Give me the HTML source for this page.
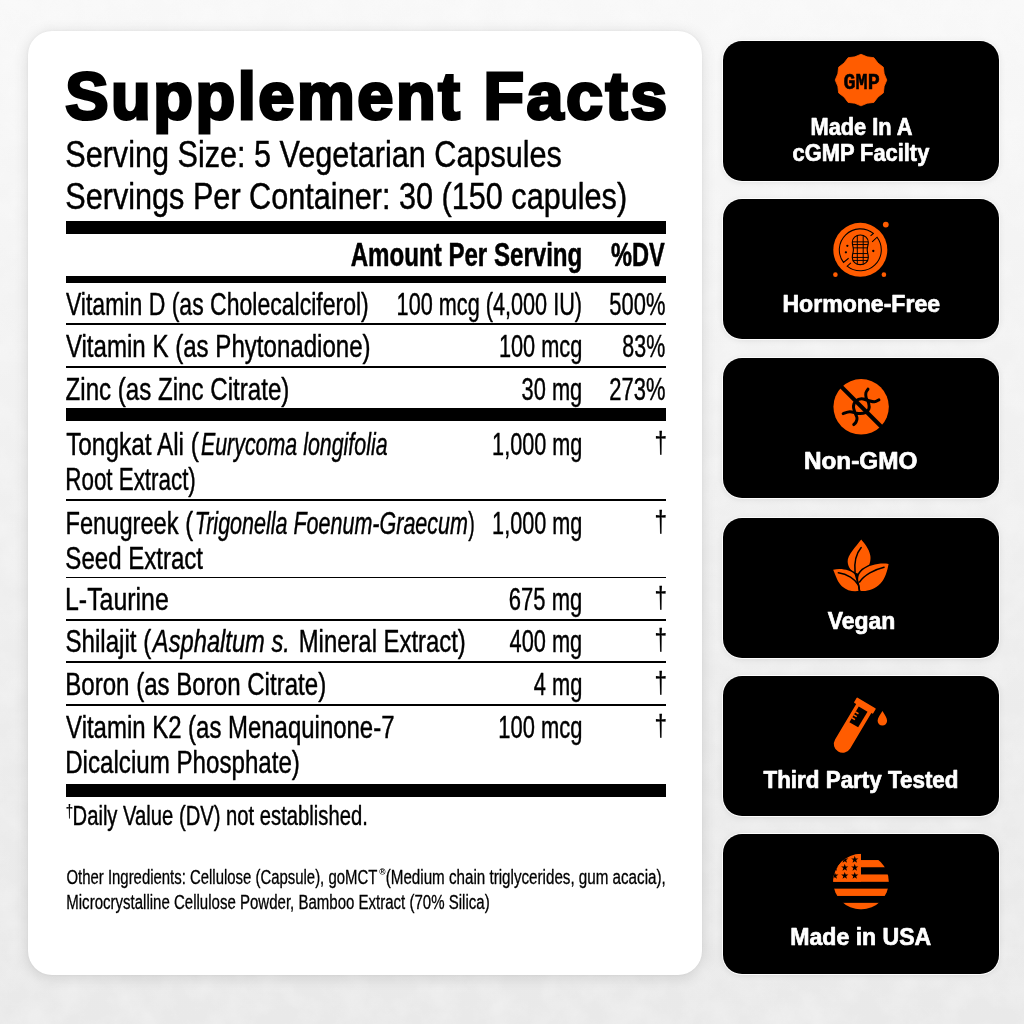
<!DOCTYPE html>
<html lang="en">
<head>
<meta charset="utf-8">
<title>Supplement Facts</title>
<style>
html,body{margin:0;padding:0;}
body{width:1024px;height:1024px;overflow:hidden;background:linear-gradient(180deg,#f8f8f8 0%,#f2f2f2 35%,#ececec 70%,#e9e9e9 100%);position:relative;font-family:"Liberation Sans",sans-serif;}
.panel{position:absolute;left:28px;top:31px;width:674px;height:943.7px;background:#fff;border-radius:24px;box-shadow:0 2px 15px rgba(0,0,0,0.12),0 0 3px rgba(0,0,0,0.05);}
.badge{position:absolute;left:722.5px;width:276.6px;height:140.1px;background:#000;border-radius:19px;box-shadow:0 0 0 1px rgba(255,255,255,0.9),0 1px 6px rgba(0,0,0,0.10);}
.bar{position:absolute;left:66.1px;width:600.2px;background:#000;}
svg.overlay{position:absolute;left:0;top:0;}
svg.overlay text{font-family:"Liberation Sans",sans-serif;}
</style>
</head>
<body>
<svg class="noise" width="1024" height="1024" style="position:absolute;left:0;top:0">
<filter id="paper" x="0" y="0" width="100%" height="100%">
<feTurbulence type="fractalNoise" baseFrequency="0.035" numOctaves="4" seed="7" result="n"/>
<feColorMatrix in="n" type="matrix" values="0 0 0 0 1  0 0 0 0 1  0 0 0 0 1  1.6 0 0 0 -0.55"/>
</filter>
<rect width="1024" height="1024" filter="url(#paper)" opacity="0.3"/>
</svg>
<div class="panel"></div>
<div class="badge" style="top:40.9px"></div>
<div class="badge" style="top:199.05px"></div>
<div class="badge" style="top:357.5px"></div>
<div class="badge" style="top:517.5px"></div>
<div class="badge" style="top:676px"></div>
<div class="badge" style="top:834.3px"></div>
<div class="bar" style="top:221px;height:13px"></div>
<div class="bar" style="top:276px;height:6.8px"></div>
<div class="bar" style="top:323.4px;height:1.6px"></div>
<div class="bar" style="top:366.1px;height:1.6px"></div>
<div class="bar" style="top:408px;height:13px"></div>
<div class="bar" style="top:499.2px;height:1.6px"></div>
<div class="bar" style="top:576.5px;height:1.6px"></div>
<div class="bar" style="top:619.2px;height:1.6px"></div>
<div class="bar" style="top:661.4px;height:1.6px"></div>
<div class="bar" style="top:704.2px;height:1.6px"></div>
<div class="bar" style="top:783.6px;height:13.2px"></div>
<svg class="overlay" width="1024" height="1024" viewBox="0 0 1024 1024">
<polygon fill="#FF5C00" stroke="#FF5C00" stroke-width="0.8" stroke-linejoin="round" points="861,54.25 867.21,56.87 873.9,57.71 877.97,63.08 883.34,67.15 884.18,73.84 886.8,80.05 884.18,86.26 883.34,92.95 877.97,97.02 873.9,102.39 867.21,103.23 861,105.85 854.79,103.23 848.1,102.39 844.03,97.02 838.66,92.95 837.82,86.26 835.2,80.05 837.82,73.84 838.66,67.15 844.03,63.08 848.1,57.71 854.79,56.87"/>
<g transform="translate(860.3 249.85)"><circle r="27" fill="#FF5C00"/><circle cx="25.5" cy="-25.3" r="2.9" fill="#FF5C00"/><circle cx="-24.9" cy="24.8" r="2.3" fill="#FF5C00"/><circle cx="23.6" cy="24.8" r="2.3" fill="#FF5C00"/><path fill="none" stroke="#000" stroke-width="1.05" stroke-linecap="butt" stroke-linejoin="miter" d="M-11.67 8.38L-16.81 12.58A21 21 0 0 1 13.08 -16.43L10.25 -14 M11.86 -8.06L16.78 -12.63A21 21 0 0 1 -13.16 16.36L-9.4 13"/><clipPath id="pn"><path d="M0 -14.8C4.6 -14.8 8 -11.6 8 -7.6C8 -4.4 6.9 -2.6 6.9 0C6.9 2.6 8 4.4 8 7.6C8 11.6 4.6 14.8 0 14.8C-4.6 14.8 -8 11.6 -8 7.6C-8 4.4 -6.9 2.6 -6.9 0C-6.9 -2.6 -8 -4.4 -8 -7.6C-8 -11.6 -4.6 -14.8 0 -14.8Z"/></clipPath><path d="M0 -14.8C4.6 -14.8 8 -11.6 8 -7.6C8 -4.4 6.9 -2.6 6.9 0C6.9 2.6 8 4.4 8 7.6C8 11.6 4.6 14.8 0 14.8C-4.6 14.8 -8 11.6 -8 7.6C-8 4.4 -6.9 2.6 -6.9 0C-6.9 -2.6 -8 -4.4 -8 -7.6C-8 -11.6 -4.6 -14.8 0 -14.8Z" fill="none" stroke="#000" stroke-width="1.1"/><path clip-path="url(#pn)" d="M-9 -8H9M-9 -5.3H9M-9 -2H9M-9 3.7H9M-9 7.6H9M-9 10.6H9M-3 -15V15M2.9 -15V15" fill="none" stroke="#000" stroke-width="0.95"/><circle cx="-12.95" cy="-4" r="1.15" fill="#000"/><circle cx="-14.4" cy="2.45" r="1.15" fill="#000"/><circle cx="13" cy="1.16" r="1.15" fill="#000"/></g>
<g transform="translate(861.13 406.8)"><circle r="27.7" fill="#FF5C00"/><path d="M6.83 -17.66C6.49 -17.07 5.07 -15.57 4.77 -14.12C4.47 -12.67 4.58 -10.68 5.03 -8.96C5.48 -7.24 7.01 -5.63 7.48 -3.8C7.94 -1.98 8.34 0.39 7.8 2C7.26 3.61 6.03 5.09 4.25 5.87C2.48 6.64 -0.26 6.8 -2.84 6.64C-5.41 6.48 -8.69 4.87 -11.21 4.9C-13.74 4.93 -16.85 6.51 -17.98 6.83M17.79 -7.03C17.04 -6.68 15.05 -5.09 13.28 -4.96C11.5 -4.83 9.3 -5.73 7.15 -6.25C5.01 -6.78 2.43 -8.15 0.39 -8.12C-1.65 -8.09 -3.75 -7.32 -5.09 -6.06C-6.43 -4.8 -7.46 -2.46 -7.67 -0.58C-7.88 1.3 -6.97 3.29 -6.38 5.22C-5.79 7.15 -4.34 9.36 -4.13 11.02C-3.91 12.69 -4.55 14.08 -5.09 15.21C-5.63 16.34 -6.97 17.36 -7.35 17.79" fill="none" stroke="#000" stroke-width="3" stroke-linecap="round" stroke-linejoin="round"/><path d="M-21 -21.3L21 20.7" stroke="#000" stroke-width="3.9" fill="none"/></g>
<g stroke-linejoin="round"><path d="M861.19 539.48C855.72 546.89 847.34 555.27 847.66 561.72C847.98 567.52 851.85 571.38 855.07 572.67L864.09 575.25C869.89 566.23 871.18 559.78 870.22 555.27C869.25 548.82 864.09 543.02 861.19 539.48Z" fill="#FF5C00"/><path d="M833.16 569.77C840.89 567.84 850.56 569.77 855.39 574.93C858.62 579.12 859.26 585.56 859.58 590.85C853.78 592.01 847.34 591.04 841.86 586.21C837.67 582.34 835.73 575.89 833.16 569.77Z" fill="#FF5C00" stroke="#000" stroke-width="3.2" paint-order="stroke"/><path d="M888.59 563.97C879.56 562.68 869.25 564.94 862.81 570.09C858.29 573.96 857.33 578.47 858.81 582.98C859.58 585.56 859.9 588.79 860.23 590.85C866.67 591.82 874.41 589.56 880.21 583.76C885.36 578.47 887.3 570.74 888.59 563.97Z" fill="#FF5C00" stroke="#000" stroke-width="3.2" paint-order="stroke"/><path d="M861.19 547.54C856.36 553.34 854.1 563 855.07 572.67C856.04 578.47 858.94 582.98 859.58 591.04 M838.31 572.8C847.34 574.09 855.07 579.12 858.49 585.24 M884.07 567.19C874.41 569.45 864.09 575.25 859.58 582.02" fill="none" stroke="#000" stroke-width="1.5" stroke-linecap="round"/></g>
<g transform="translate(866.5 703) rotate(30.8)"><rect x="-11.1" y="0" width="22.2" height="6.2" rx="0.8" fill="#FF5C00"/><path d="M-8.3 5V47.4A8.8 8.8 0 0 0 9.3 47.4V5Z" fill="#FF5C00"/><rect x="-4.9" y="6.9" width="10.2" height="18.3" fill="#000"/><rect x="-5" y="12.6" width="3.6" height="1.5" fill="#FF5C00"/><rect x="-5" y="16" width="3.6" height="1.5" fill="#FF5C00"/><rect x="-5" y="19.4" width="3.6" height="1.5" fill="#FF5C00"/></g><path d="M882.45 711C880.5 714.5 877.6 717.6 877.6 720.8A4.75 4.75 0 0 0 887.1 720.8C887.1 717.6 884.4 714.5 882.45 711Z" fill="#FF5C00"/>
<clipPath id="us"><circle cx="861" cy="881.65" r="27.8"/></clipPath><g clip-path="url(#us)"><g transform="translate(861 881.65)"><rect x="-28" y="-28" width="28" height="28" fill="#FF5C00"/><rect x="-28" y="-21.6" width="56" height="7.2" fill="#FF5C00"/><rect x="-28" y="-7.2" width="56" height="7.35" fill="#FF5C00"/><rect x="-28" y="7" width="56" height="7.3" fill="#FF5C00"/><rect x="-28" y="21.2" width="56" height="6.8" fill="#FF5C00"/><polygon points="-6.25,-25.8 -5.37,-23.21 -2.64,-23.17 -4.82,-21.54 -4.02,-18.93 -6.25,-20.5 -8.48,-18.93 -7.68,-21.54 -9.86,-23.17 -7.13,-23.21" fill="#000"/><polygon points="-6.25,-17.8 -5.37,-15.21 -2.64,-15.17 -4.82,-13.54 -4.02,-10.93 -6.25,-12.5 -8.48,-10.93 -7.68,-13.54 -9.86,-15.17 -7.13,-15.21" fill="#000"/><polygon points="-6.25,-9.7 -5.37,-7.11 -2.64,-7.07 -4.82,-5.44 -4.02,-2.83 -6.25,-4.4 -8.48,-2.83 -7.68,-5.44 -9.86,-7.07 -7.13,-7.11" fill="#000"/><polygon points="-16.24,-25.8 -15.36,-23.21 -12.63,-23.17 -14.81,-21.54 -14.01,-18.93 -16.24,-20.5 -18.47,-18.93 -17.67,-21.54 -19.85,-23.17 -17.12,-23.21" fill="#000"/><polygon points="-16.24,-17.8 -15.36,-15.21 -12.63,-15.17 -14.81,-13.54 -14.01,-10.93 -16.24,-12.5 -18.47,-10.93 -17.67,-13.54 -19.85,-15.17 -17.12,-15.21" fill="#000"/><polygon points="-16.24,-9.7 -15.36,-7.11 -12.63,-7.07 -14.81,-5.44 -14.01,-2.83 -16.24,-4.4 -18.47,-2.83 -17.67,-5.44 -19.85,-7.07 -17.12,-7.11" fill="#000"/><polygon points="-26.2,-25.8 -25.32,-23.21 -22.59,-23.17 -24.77,-21.54 -23.97,-18.93 -26.2,-20.5 -28.43,-18.93 -27.63,-21.54 -29.81,-23.17 -27.08,-23.21" fill="#000"/><polygon points="-26.2,-17.8 -25.32,-15.21 -22.59,-15.17 -24.77,-13.54 -23.97,-10.93 -26.2,-12.5 -28.43,-10.93 -27.63,-13.54 -29.81,-15.17 -27.08,-15.21" fill="#000"/><polygon points="-26.2,-9.7 -25.32,-7.11 -22.59,-7.07 -24.77,-5.44 -23.97,-2.83 -26.2,-4.4 -28.43,-2.83 -27.63,-5.44 -29.81,-7.07 -27.08,-7.11" fill="#000"/></g></g>
<text transform="translate(65.2 118.8) scale(0.984 1)" font-size="66" font-weight="bold" stroke="#000" stroke-width="3" stroke-linejoin="miter" letter-spacing="2.6">Supplement</text>
<text transform="translate(483.486 118.8) scale(1.005 1)" font-size="66" font-weight="bold" stroke="#000" stroke-width="3" stroke-linejoin="miter" letter-spacing="2.6">Facts</text>
<text transform="translate(65.24 166.5) scale(0.816 1)" font-size="37.5" stroke="#000" stroke-width="0.45" stroke-linejoin="round">Serving Size: 5 Vegetarian Capsules</text>
<text transform="translate(65.238 208.7) scale(0.817 1)" font-size="37.5" stroke="#000" stroke-width="0.45" stroke-linejoin="round">Servings Per Container: 30 (150 capules)</text>
<text transform="translate(350.71 265.9) scale(0.735 1)" font-size="32.8" font-weight="bold" stroke="#000" stroke-width="0.55" stroke-linejoin="round">Amount Per Serving</text>
<text transform="translate(611.02 265.9) scale(0.72 1)" font-size="32.8" font-weight="bold" stroke="#000" stroke-width="0.55" stroke-linejoin="round">%DV</text>
<text transform="translate(65.9 314.7) scale(0.743 1)" font-size="31" stroke="#000" stroke-width="0.45" stroke-linejoin="round">Vitamin D (as Cholecalciferol)</text>
<text transform="translate(396.601 314.7) scale(0.699 1)" font-size="31" stroke="#000" stroke-width="0.45" stroke-linejoin="round">100 mcg (4,000 IU)</text>
<text transform="translate(609.292 314.7) scale(0.708 1)" font-size="31" stroke="#000" stroke-width="0.45" stroke-linejoin="round">500%</text>
<text transform="translate(65.9 357.1) scale(0.777 1)" font-size="31" stroke="#000" stroke-width="0.45" stroke-linejoin="round">Vitamin K (as Phytonadione)</text>
<text transform="translate(498.897 357.1) scale(0.702 1)" font-size="31" stroke="#000" stroke-width="0.45" stroke-linejoin="round">100 mcg</text>
<text transform="translate(622.308 357.1) scale(0.692 1)" font-size="31" stroke="#000" stroke-width="0.45" stroke-linejoin="round">83%</text>
<text transform="translate(65.582 399.5) scale(0.778 1)" font-size="31" stroke="#000" stroke-width="0.45" stroke-linejoin="round">Zinc (as Zinc Citrate)</text>
<text transform="translate(521.545 399.5) scale(0.705 1)" font-size="31" stroke="#000" stroke-width="0.45" stroke-linejoin="round">30 mg</text>
<text transform="translate(609.306 399.5) scale(0.708 1)" font-size="31" stroke="#000" stroke-width="0.45" stroke-linejoin="round">273%</text>
<text transform="translate(66.138 454.9) scale(0.786 1)" font-size="31" stroke="#000" stroke-width="0.45" stroke-linejoin="round">Tongkat Ali (</text>
<text transform="translate(200.94 454.9) scale(0.69 1)" font-size="31" stroke="#000" stroke-width="0.45" stroke-linejoin="round"><tspan font-style="italic">Eurycoma longifolia</tspan></text>
<text transform="translate(65.316 489.6) scale(0.722 1)" font-size="31" stroke="#000" stroke-width="0.45" stroke-linejoin="round">Root Extract)</text>
<text transform="translate(492.104 454.9) scale(0.698 1)" font-size="31" stroke="#000" stroke-width="0.45" stroke-linejoin="round">1,000 mg</text>
<text transform="translate(65.519 533.7) scale(0.763 1)" font-size="31" stroke="#000" stroke-width="0.45" stroke-linejoin="round">Fenugreek (</text>
<text transform="translate(194.648 533.7) scale(0.694 1)" font-size="31" stroke="#000" stroke-width="0.45" stroke-linejoin="round"><tspan font-style="italic">Trigonella Foenum-Graecum</tspan></text>
<text transform="translate(468.3 533.7) scale(0.629 1)" font-size="31" stroke="#000" stroke-width="0.45" stroke-linejoin="round">)</text>
<text transform="translate(65.365 568.8) scale(0.776 1)" font-size="31" stroke="#000" stroke-width="0.45" stroke-linejoin="round">Seed Extract</text>
<text transform="translate(492.104 533.7) scale(0.698 1)" font-size="31" stroke="#000" stroke-width="0.45" stroke-linejoin="round">1,000 mg</text>
<text transform="translate(65.027 610) scale(0.803 1)" font-size="31" stroke="#000" stroke-width="0.45" stroke-linejoin="round">L-Taurine</text>
<text transform="translate(508.803 610) scale(0.71 1)" font-size="31" stroke="#000" stroke-width="0.45" stroke-linejoin="round">675 mg</text>
<text transform="translate(65.564 652.2) scale(0.777 1)" font-size="31" stroke="#000" stroke-width="0.45" stroke-linejoin="round">Shilajit (</text>
<text transform="translate(152.874 652.2) scale(0.765 1)" font-size="31" stroke="#000" stroke-width="0.45" stroke-linejoin="round"><tspan font-style="italic">Asphaltum s.</tspan></text>
<text transform="translate(298.703 652.2) scale(0.77 1)" font-size="31" stroke="#000" stroke-width="0.45" stroke-linejoin="round">Mineral Extract)</text>
<text transform="translate(509.516 652.2) scale(0.703 1)" font-size="31" stroke="#000" stroke-width="0.45" stroke-linejoin="round">400 mg</text>
<text transform="translate(65.187 694.8) scale(0.777 1)" font-size="31" stroke="#000" stroke-width="0.45" stroke-linejoin="round">Boron (as Boron Citrate)</text>
<text transform="translate(533.765 694.8) scale(0.705 1)" font-size="31" stroke="#000" stroke-width="0.45" stroke-linejoin="round">4 mg</text>
<text transform="translate(66.1 738) scale(0.773 1)" font-size="31" stroke="#000" stroke-width="0.45" stroke-linejoin="round">Vitamin K2 (as Menaquinone-7</text>
<text transform="translate(65.181 773.2) scale(0.779 1)" font-size="31" stroke="#000" stroke-width="0.45" stroke-linejoin="round">Dicalcium Phosphate)</text>
<text transform="translate(498.337 738) scale(0.707 1)" font-size="31" stroke="#000" stroke-width="0.45" stroke-linejoin="round">100 mcg</text>
<text transform="translate(654.5 452.9) scale(0.75 1)" font-size="30" stroke="#000" stroke-width="0.3" stroke-linejoin="round">†</text>
<text transform="translate(654.5 531.7) scale(0.75 1)" font-size="30" stroke="#000" stroke-width="0.3" stroke-linejoin="round">†</text>
<text transform="translate(654.5 608) scale(0.75 1)" font-size="30" stroke="#000" stroke-width="0.3" stroke-linejoin="round">†</text>
<text transform="translate(654.5 650.2) scale(0.75 1)" font-size="30" stroke="#000" stroke-width="0.3" stroke-linejoin="round">†</text>
<text transform="translate(654.5 692.8) scale(0.75 1)" font-size="30" stroke="#000" stroke-width="0.3" stroke-linejoin="round">†</text>
<text transform="translate(654.5 736) scale(0.75 1)" font-size="30" stroke="#000" stroke-width="0.3" stroke-linejoin="round">†</text>
<text transform="translate(72.534 825) scale(0.733 1)" font-size="27.6" stroke="#000" stroke-width="0.45" stroke-linejoin="round">Daily Value (DV) not established.</text>
<text transform="translate(65.643 817.1) scale(0.757 1)" font-size="17.5" stroke="#000" stroke-width="0.2" stroke-linejoin="round">†</text>
<text transform="translate(66.488 884.25) scale(0.769 1)" font-size="19.4" stroke="#000" stroke-width="0.3" stroke-linejoin="round">Other Ingredients: Cellulose (Capsule), goMCT</text>
<text transform="translate(379.2 875.3) scale(1 1)" font-size="8.5" font-weight="bold">®</text>
<text transform="translate(385.717 884.25) scale(0.783 1)" font-size="19.4" stroke="#000" stroke-width="0.3" stroke-linejoin="round">(Medium chain triglycerides, gum acacia),</text>
<text transform="translate(66.267 908.85) scale(0.775 1)" font-size="19.4" stroke="#000" stroke-width="0.3" stroke-linejoin="round">Microcrystalline Cellulose Powder, Bamboo Extract (70% Silica)</text>
<text transform="translate(810.497 135.2) scale(0.94 1)" font-size="23.2" font-weight="bold" fill="#fff" stroke="#fff" stroke-width="0.7" stroke-linejoin="round">Made In A</text>
<text transform="translate(792.572 161.2) scale(0.942 1)" font-size="23.2" font-weight="bold" fill="#fff" stroke="#fff" stroke-width="0.7" stroke-linejoin="round">cGMP Facilty</text>
<text transform="translate(782.423 311.6) scale(0.995 1)" font-size="23.2" font-weight="bold" fill="#fff" stroke="#fff" stroke-width="0.7" stroke-linejoin="round">Hormone-Free</text>
<text transform="translate(803.902 469.3) scale(1.049 1)" font-size="23.2" font-weight="bold" fill="#fff" stroke="#fff" stroke-width="0.7" stroke-linejoin="round">Non-GMO</text>
<text transform="translate(827.8 628.7) scale(0.989 1)" font-size="23.2" font-weight="bold" fill="#fff" stroke="#fff" stroke-width="0.7" stroke-linejoin="round">Vegan</text>
<text transform="translate(763.5 788.2) scale(0.966 1)" font-size="23.2" font-weight="bold" fill="#fff" stroke="#fff" stroke-width="0.7" stroke-linejoin="round">Third Party Tested</text>
<text transform="translate(790.273 945.2) scale(0.995 1)" font-size="23.2" font-weight="bold" fill="#fff" stroke="#fff" stroke-width="0.7" stroke-linejoin="round">Made in USA</text>
<text transform="translate(843.498 89.06) scale(0.903 1)" font-size="22.3" style="font-family:'Liberation Mono', monospace" font-weight="bold" stroke="#000" stroke-width="0.5" stroke-linejoin="round">GMP</text>
</svg>
</body>
</html>
